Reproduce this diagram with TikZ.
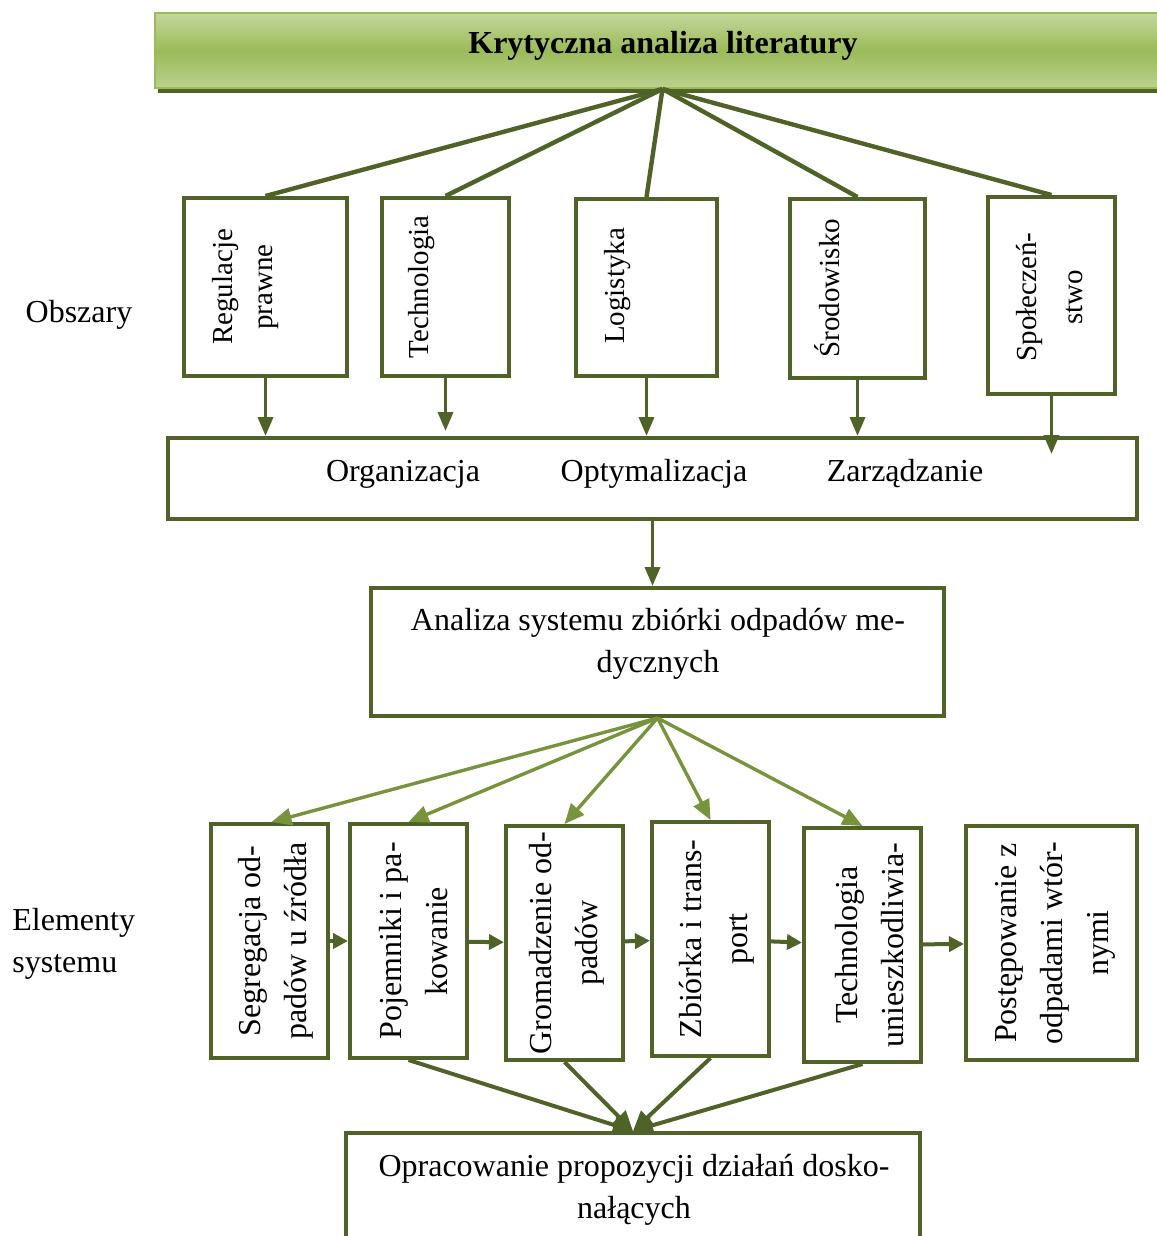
\documentclass[tikz,border=0pt]{standalone}
\usepackage{fontspec}
\setmainfont{Liberation Serif}
\usetikzlibrary{arrows.meta}
\definecolor{oliveDark}{HTML}{4F6228}
\definecolor{oliveMid}{HTML}{77933C}
\definecolor{oliveLight}{HTML}{9BBB59}
\definecolor{olivePale}{HTML}{C3D69B}
\begin{document}
\begin{tikzpicture}[x=0.5pt,y=-0.5pt]
	\tikzstyle{box}=[draw=oliveDark, line width=2pt, rectangle, inner sep=0pt, fill=white]
	\tikzstyle{atext}=[rotate=90, align=center, font=\fontsize{14.5}{20}\selectfont]
	\tikzstyle{vtext}=[rotate=90, align=center, font=\fontsize{16}{23}\selectfont]
	\tikzstyle{htext}=[align=center, font=\fontsize{16}{21}\selectfont]
	\tikzstyle{link}=[draw=oliveDark, line width=2.2pt]
	\tikzstyle{down}=[draw=oliveDark, line width=1.8pt, -{Triangle[length=9.5pt,width=7.5pt]}]
	\tikzstyle{fan}=[draw=oliveMid, line width=1.7pt, -{Triangle[length=10pt,width=8.5pt]}]
	\tikzstyle{flow}=[draw=oliveDark, line width=2pt, -{Triangle[length=7.5pt,width=7.5pt]}]
	\tikzstyle{merge}=[draw=oliveDark, line width=2pt, -{Triangle[length=10pt,width=9pt]}]
	
	\useasboundingbox (0,0) rectangle (1156,1236);
	
	% naglowek
	\fill[oliveDark] (158,86) rectangle (1170,93);
	\node[draw=oliveLight, line width=1pt, top color=olivePale, bottom color=olivePale!80!oliveLight, middle color=oliveLight,
		minimum width=507.5pt, minimum height=37.5pt, inner sep=0pt, font=\bfseries\fontsize{16}{19}\selectfont] at (662.5,50.5) (lit) {};
	\node[font=\bfseries\fontsize{16}{19}\selectfont] at (663,46) (lit-t) {Krytyczna analiza literatury};
	
	% obszary
	\node[htext] at (79,315) (obsz) {Obszary};
	\node[box, minimum width=81.5pt, minimum height=89pt] at (265.5,287) (reg) {};
	\node[box, minimum width=63.5pt, minimum height=89pt] at (445.5,287) (tech) {};
	\node[box, minimum width=70.5pt, minimum height=88.5pt] at (646.5,287.5) (log) {};
	\node[box, minimum width=67.5pt, minimum height=89.5pt] at (857.5,288.5) (srod) {};
	\node[box, minimum width=63.5pt, minimum height=98.5pt] at (1051.5,295.5) (spol) {};
	\node[atext] at (246,287) (reg-t) {Regulacje\\prawne};
	\node[atext] at (422,287) (tech-t) {Technologia};
	\node[atext] at (618,286) (log-t) {Logistyka};
	\node[atext] at (827,288) (srod-t) {Środowisko};
	\node[atext, font=\fontsize{14.5}{23}\selectfont] at (1050,297) (spol-t) {Społeczeń-\\stwo};
	
	\draw[link] (lit.south) -- (reg.north);
	\draw[link] (lit.south) -- (tech.north);
	\draw[link] (lit.south) -- (log.north);
	\draw[link] (lit.south) -- (srod.north);
	\draw[link] (lit.south) -- (spol.north);
	
	\node[box, minimum width=484.5pt, minimum height=40.5pt] at (652.5,478.5) (org) {};
	\node[htext] at (403,474) (org-a) {Organizacja};
	\node[htext] at (654,474) (org-b) {Optymalizacja};
	\node[htext] at (905,474) (org-c) {Zarządzanie};
	
	\draw[down] (reg.south) -- (reg.south |- org.north);
	\draw[down] (tech.south) -- ([yshift=2.5pt]tech.south |- org.north);
	\draw[down] (log.south) -- (log.south |- org.north);
	\draw[down] (srod.south) -- (srod.south |- org.north);
	\draw[down] (spol.south) -- ([yshift=-9pt]spol.south |- org.north);
	
	\node[box, minimum width=286.5pt, minimum height=64pt] at (657.5,652) (ana) {};
	\node[htext] at (658,644) (ana-t) {Analiza systemu zbiórki odpadów me-\\dycznych};
	\draw[down] (org.south) -- (org.south |- ana.north);
	
	% elementy systemu
	\node[htext, anchor=west, align=left, inner sep=0pt] at (12,944) (elem) {Elementy\\systemu};
	\node[box, minimum width=58.5pt, minimum height=117pt] at (269.5,941) (seg) {};
	\node[box, minimum width=58.5pt, minimum height=117pt] at (408.5,941) (poj) {};
	\node[box, minimum width=58.5pt, minimum height=117pt] at (564.5,943) (grom) {};
	\node[box, minimum width=58.5pt, minimum height=117pt] at (710.5,939) (zbior) {};
	\node[box, minimum width=58.5pt, minimum height=117pt] at (862.5,945) (techu) {};
	\node[box, minimum width=85.5pt, minimum height=117pt] at (1051.5,943) (post) {};
	\node[vtext] at (275.5,941) (seg-t) {Segregacja od-\\padów u źródła};
	\node[vtext] at (413.5,941) (poj-t) {Pojemniki i pa-\\kowanie};
	\node[vtext] at (566.5,943) (grom-t) {Gromadzenie od-\\padów};
	\node[vtext] at (716.5,939) (zbior-t) {Zbiórka i trans-\\port};
	\node[vtext] at (870,945) (techu-t) {Technologia\\unieszkodliwia-};
	\node[vtext] at (1055,943) (post-t) {Postępowanie z\\odpadami wtór-\\nymi};
	
	\draw[fan] (ana.south) -- ([xshift=1pt]seg.north);
	\draw[fan] (ana.south) -- (poj.north);
	\draw[fan] (ana.south) -- (grom.north);
	\draw[fan] (ana.south) -- (zbior.north);
	\draw[fan] (ana.south) -- (techu.north);
	
	\draw[flow] (seg) -- (poj);
	\draw[flow] (poj) -- (grom);
	\draw[flow] (grom) -- (zbior);
	\draw[flow] (zbior) -- (techu);
	\draw[flow] (techu) -- (post);
	
	\node[box, minimum width=287pt, minimum height=78.5pt] at (633,1211.5) (opr) {};
	\node[htext] at (634,1190) (opr-t) {Opracowanie propozycji działań dosko-\\nałących};
	
	\draw[merge] (poj.south) -- (opr.north);
	\draw[merge] (grom.south) -- (opr.north);
	\draw[merge] (zbior.south) -- (opr.north);
	\draw[merge] (techu.south) -- (opr.north);
\end{tikzpicture}
\end{document}
